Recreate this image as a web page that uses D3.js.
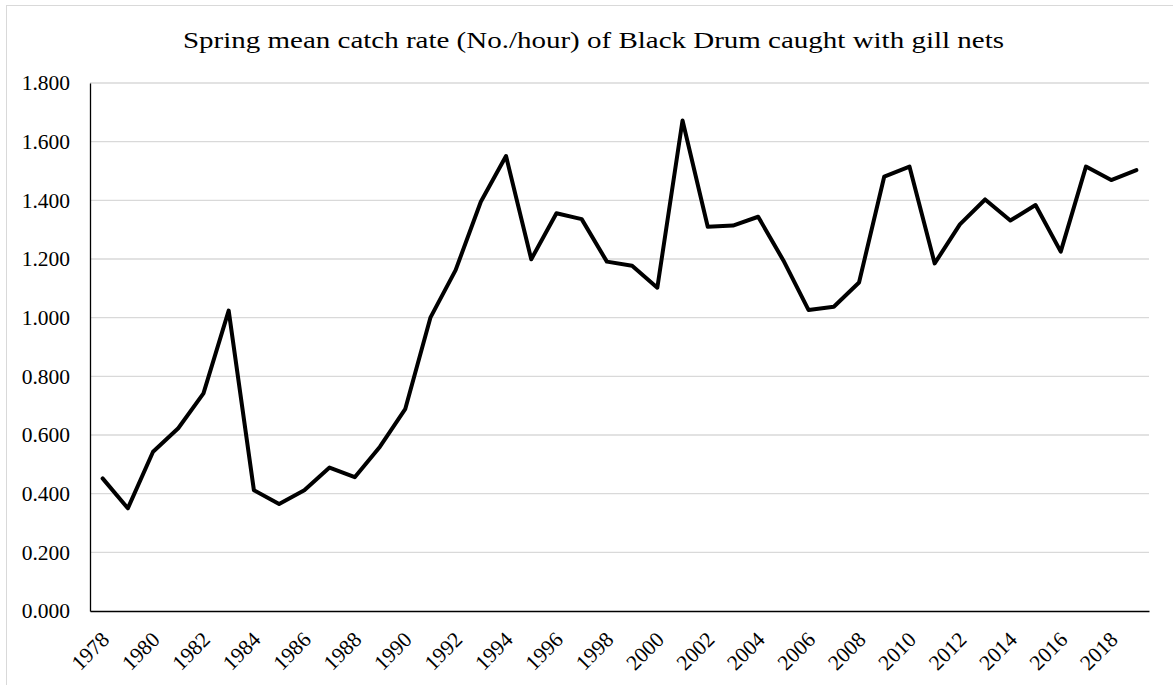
<!DOCTYPE html>
<html>
<head>
<meta charset="utf-8">
<script src="https://cdn.jsdelivr.net/npm/d3@7"></script>
<style>
  html, body { margin: 0; padding: 0; background: #fff; }
  svg { display: block; }
</style>
</head>
<body>
<svg id="chart" width="1173" height="685"></svg>
<script>
// Survey years
const years = [
  1978, 1979, 1980, 1981, 1982, 1983, 1984, 1985, 1986, 1987,
  1988, 1989, 1990, 1991, 1992, 1993, 1994, 1995, 1996, 1997,
  1998, 1999, 2000, 2001, 2002, 2003, 2004, 2005, 2006, 2007,
  2008, 2009, 2010, 2011, 2012, 2013, 2014, 2015, 2016, 2017,
  2018, 2019
];

// Spring mean catch rate (No./hour), gill nets
const catchRate = [
  0.452, 0.350, 0.543, 0.623, 0.742, 1.024, 0.412, 0.365, 0.412, 0.489,
  0.456, 0.560, 0.688, 1.000, 1.162, 1.395, 1.551, 1.199, 1.356, 1.336,
  1.191, 1.177, 1.102, 1.672, 1.310, 1.314, 1.344, 1.195, 1.026, 1.037,
  1.120, 1.481, 1.515, 1.185, 1.318, 1.403, 1.331, 1.384, 1.225, 1.515,
  1.469, 1.503
];

// Value axis ticks
const yTicks = [0, 0.2, 0.4, 0.6, 0.8, 1.0, 1.2, 1.4, 1.6, 1.8];

// Labelled years on the category axis (every other year)
const xTickLabels = years.filter((y, i) => i % 2 === 0);

const titleText = "Spring mean catch rate (No./hour) of Black Drum caught with gill nets";

const svg = d3.select("#chart");
const plot = { left: 90, right: 1149, top: 83, bottom: 611 };
const serif = "'Liberation Serif', 'DejaVu Serif', serif";

// Chart area frame
svg.append("rect")
  .attr("x", 6.5).attr("y", 5.5)
  .attr("width", 1200).attr("height", 720)
  .attr("fill", "#fff")
  .attr("stroke", "#d9d9d9")
  .attr("stroke-width", 1);

const x = d3.scaleBand()
  .domain(years)
  .range([plot.left, plot.right])
  .paddingInner(0).paddingOuter(0);

const y = d3.scaleLinear()
  .domain([0, 1.8])
  .range([plot.bottom, plot.top]);

// Horizontal gridlines
svg.append("g")
  .selectAll("line")
  .data(yTicks.filter(d => d > 0))
  .join("line")
  .attr("x1", plot.left).attr("x2", plot.right)
  .attr("y1", d => y(d)).attr("y2", d => y(d))
  .attr("stroke", "#d9d9d9")
  .attr("stroke-width", 1.3);

// Y axis
const yAxis = svg.append("g")
  .attr("transform", `translate(${plot.left},0)`)
  .call(d3.axisLeft(y).tickValues(yTicks).tickFormat(d3.format(".3f")).tickSize(0).tickPadding(20));
yAxis.select(".domain").attr("stroke", "#000").attr("stroke-width", 1.3);
yAxis.selectAll("text")
  .attr("font-family", serif)
  .attr("font-size", 21.5)
  .attr("fill", "#000");

// X axis
const xAxis = svg.append("g")
  .attr("transform", `translate(0,${plot.bottom})`)
  .call(d3.axisBottom(x).tickValues(xTickLabels).tickSize(0).tickPadding(0));
xAxis.select(".domain").attr("stroke", "#000").attr("stroke-width", 1.3);
xAxis.selectAll("text")
  .attr("font-family", serif)
  .attr("font-size", 21.5)
  .attr("fill", "#000")
  .attr("text-anchor", "end")
  .attr("dy", 0)
  .attr("transform", "translate(8,30) rotate(-45)");

// Catch-rate line
const line = d3.line()
  .x((d, i) => x(years[i]) + x.bandwidth() / 2)
  .y(d => y(d));

svg.append("path")
  .datum(catchRate)
  .attr("d", line)
  .attr("fill", "none")
  .attr("stroke", "#000")
  .attr("stroke-width", 4)
  .attr("stroke-linejoin", "round")
  .attr("stroke-linecap", "round");

// Title
svg.append("text")
  .attr("x", 183)
  .attr("y", 48)
  .attr("font-family", serif)
  .attr("font-size", 24)
  .attr("fill", "#000")
  .attr("textLength", 821)
  .attr("lengthAdjust", "spacingAndGlyphs")
  .text(titleText);
</script>
</body>
</html>
